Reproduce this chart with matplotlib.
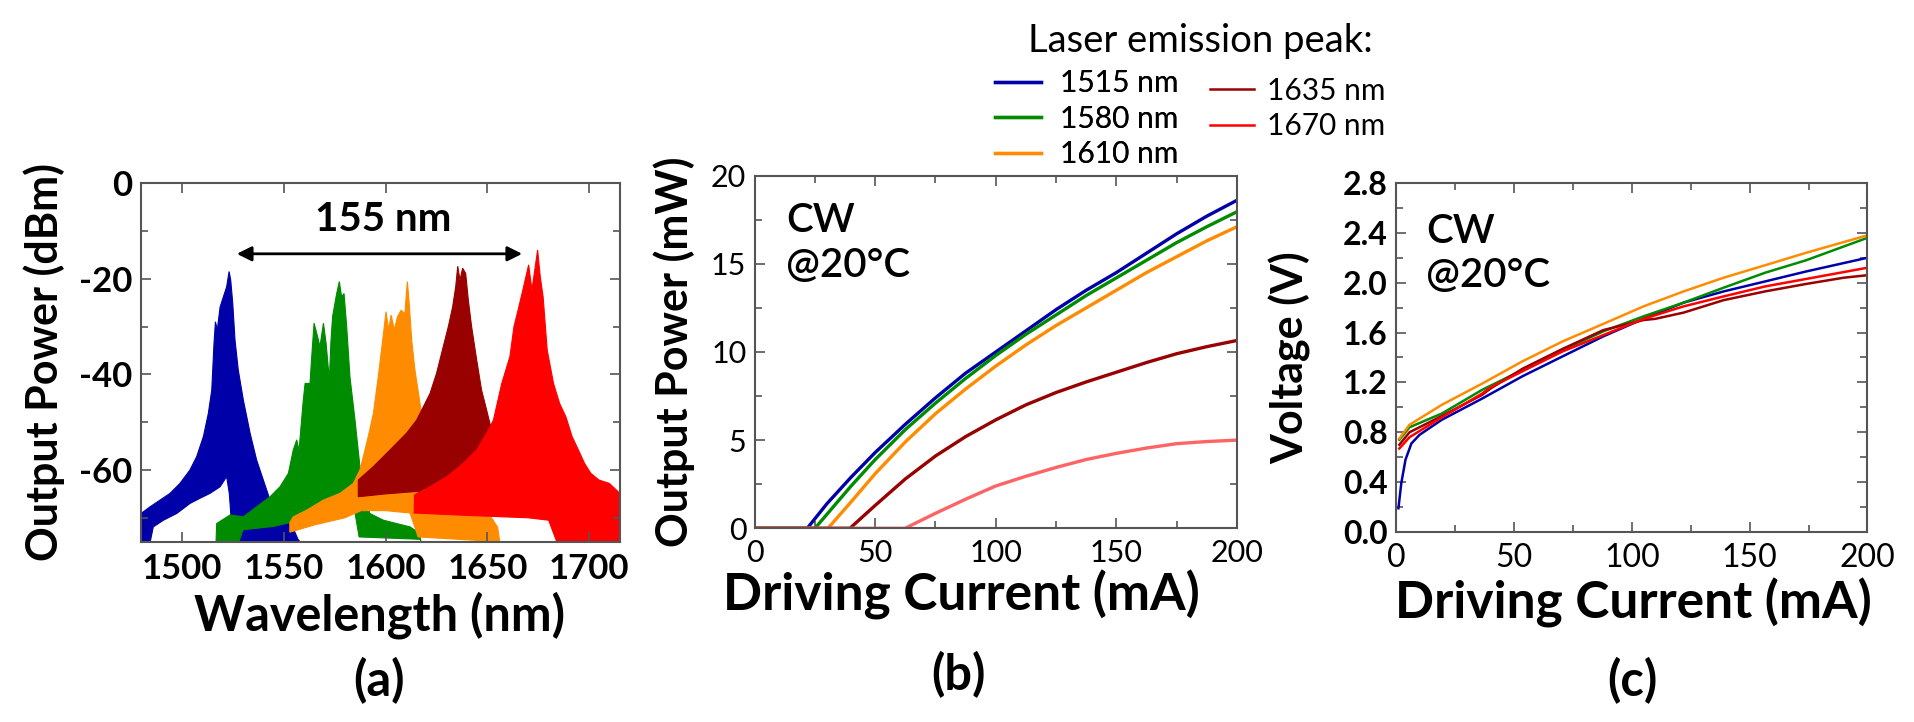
import matplotlib
matplotlib.use("Agg")
import matplotlib.pyplot as plt
from matplotlib.ticker import MultipleLocator

plt.rcParams['font.family'] = ['Lato', 'DejaVu Sans']
plt.rcParams['axes.unicode_minus'] = False

# ---------------------------------------------------------------------------
# (a) emission spectra, upper / lower envelopes
# ---------------------------------------------------------------------------
blue_top_wl = [1480, 1484.4, 1489.3, 1494.2, 1499.1, 1504, 1507.3, 1510.6, 1513,
               1514.7, 1515.8, 1516.5, 1517.4, 1518.8, 1520.4, 1522, 1523.2,
               1524, 1525, 1526.1, 1527.7, 1530.2, 1533.5, 1536.7, 1540,
               1543.3, 1548, 1553, 1557, 1558]
blue_top_db = [-69.1, -67.7, -66.3, -64.9, -62.8, -60.0, -57.2, -53.0, -48.2,
               -43.3, -33.5, -29.0, -30.7, -25.9, -23.8, -21.7, -18.5,
               -20.3, -25.2, -32.8, -39.1, -45.4, -52.3, -57.9, -62.1,
               -66.3, -68.5, -70.5, -74.5, -75]
blue_bot_wl = [1480, 1484.5, 1486, 1491, 1497.5, 1504, 1509, 1513.8, 1518.8,
               1522, 1523.3, 1524.5, 1525.6, 1558]
blue_bot_db = [-75, -75, -71.9, -70.5, -69.1, -67.0, -65.9, -64.9, -63.5,
               -61.4, -64.9, -71.9, -75, -75]

green_top_wl = [1516.8, 1517.1, 1523.7, 1530.2, 1536.7, 1543.3, 1548.2, 1552.3,
                1554.7, 1556.4, 1557.5, 1559.6, 1560.5, 1562.9, 1563.8, 1564.9,
                1566.2, 1567.8, 1569.5, 1570.8, 1572.4, 1573.2, 1574.0, 1576,
                1577.3, 1578.4, 1579.6, 1580.9, 1582.5, 1585, 1587.4, 1589.1,
                1592.3, 1598.9, 1605.4, 1612, 1616.9, 1617.2]
green_top_db = [-75, -71.2, -69.4, -69.8, -67.7, -65.6, -63.5, -60.7,
                -55.8, -53.7, -56, -45.4, -41.9, -41.9, -36, -29.3,
                -31.4, -34.2, -29.3, -33.5, -41.2, -33, -27.9, -23.1,
                -20.6, -23.8, -23.1, -30.0, -40.5, -49.6, -59.3, -64.9,
                -69.1, -70.5, -71.2, -71.9, -73.3, -75]
green_bot_wl = [1516.8, 1528, 1530, 1545, 1553, 1560, 1575, 1585, 1587, 1617.2]
green_bot_db = [-75, -75, -72.5, -71.8, -71, -69.5, -68.5, -69, -74, -74.5]

orange_top_wl = [1553, 1554.7, 1561.3, 1569.5, 1577.6, 1584.2, 1587.4, 1589.9,
                 1591.5, 1594, 1596.4, 1598.6, 1600.2, 1601.5, 1602.7, 1604.3,
                 1605.8, 1607.6, 1609.5, 1610.2, 1610.7, 1611.6, 1612.8, 1614.4,
                 1616.9, 1618.5, 1621, 1624, 1628, 1635, 1645, 1652, 1655, 1656]
orange_top_db = [-71, -69.8, -68.4, -66.3, -64.9, -62.8, -60.0, -55.8,
                 -53.0, -48.2, -40.5, -32.8, -26.9, -30.7, -27.6, -30.7,
                 -28.0, -26.6, -27.3, -23, -20.6, -25.2, -32.8, -39.1,
                 -46.1, -50.3, -56, -62, -66.5, -68, -69, -70, -72, -75]
orange_bot_wl = [1553, 1565, 1580, 1588, 1600, 1612, 1616, 1656]
orange_bot_db = [-73, -71.5, -70, -68.5, -68.5, -69, -74, -75]

dred_top_wl = [1586.6, 1586.6, 1594, 1602.2, 1610.3, 1615.2, 1618.5, 1621.8,
               1625, 1628.3, 1630.8, 1632.9, 1634.4, 1635.4, 1636.5, 1637.8,
               1639.3, 1640.6, 1642.2, 1644.7, 1647.1, 1649.6, 1651.2, 1656,
               1662, 1668, 1672, 1676, 1680]
dred_top_db = [-65.6, -62.1, -59.3, -55.8, -52.3, -49.6, -46.8, -44.0,
               -39.8, -34.2, -30.0, -25.9, -21.7, -17.4, -20.3, -17.8,
               -18.9, -24.5, -30.0, -37.0, -43.3, -47.5, -50.3, -56,
               -61, -64, -65, -66, -68]
dred_bot_wl = [1586.6, 1600, 1615, 1640, 1660, 1680]
dred_bot_db = [-65.6, -65, -64.5, -66, -68, -70]

red_top_wl = [1614, 1614.2, 1621.8, 1630, 1638.1, 1644.7, 1649.6, 1652.9, 1657,
              1661, 1663, 1665, 1668.1, 1670.2, 1671.8, 1673.2, 1674.6, 1675.9,
              1677.3, 1679.3, 1682.4, 1685.4, 1688.5, 1691.5, 1694.6, 1697.6,
              1700.7, 1704.7, 1709.8, 1715]
red_top_db = [-69, -65.2, -63.5, -61.4, -58.6, -55.8, -52.3, -49.6, -41.9,
              -36.3, -30.0, -26.6, -21.0, -17.1, -22.4, -18.2, -14.0, -19.6,
              -23.8, -34.9, -41.9, -46.1, -48.9, -53.0, -55.8, -58.6,
              -60.7, -62.1, -62.8, -64.9]
red_bot_wl = [1614, 1640, 1670, 1680, 1684, 1715]
red_bot_db = [-69, -69.5, -70, -70.5, -75, -75]

# ---------------------------------------------------------------------------
# (b) L-I curves (mA, mW)
# ---------------------------------------------------------------------------
li_1515_i = [0, 21.8, 30, 40, 50, 62.5, 75, 87.5, 100, 112.5, 125, 137.5, 150,
             162.5, 175, 187.5, 200]
li_1515_p = [0, 0, 1.4, 2.9, 4.3, 5.9, 7.4, 8.8, 10.0, 11.2, 12.4, 13.5, 14.5,
             15.6, 16.7, 17.7, 18.6]
li_1580_i = [0, 25, 30, 40, 50, 62.5, 75, 87.5, 100, 112.5, 125, 137.5, 150,
             162.5, 175, 187.5, 200]
li_1580_p = [0, 0, 0.8, 2.4, 3.9, 5.6, 7.1, 8.5, 9.8, 11.0, 12.1, 13.2, 14.2,
             15.2, 16.2, 17.1, 17.95]
li_1610_i = [0, 30.4, 40, 50, 62.5, 75, 87.5, 100, 112.5, 125, 137.5, 150,
             162.5, 175, 187.5, 200]
li_1610_p = [0, 0, 1.5, 3.1, 4.9, 6.5, 7.9, 9.2, 10.4, 11.5, 12.5, 13.5,
             14.5, 15.4, 16.3, 17.1]
li_1635_i = [0, 39.5, 50, 62.5, 75, 87.5, 100, 112.5, 125, 137.5, 150, 162.5,
             175, 187.5, 200]
li_1635_p = [0, 0, 1.3, 2.8, 4.1, 5.2, 6.15, 7.0, 7.7, 8.3, 8.85, 9.4,
             9.9, 10.3, 10.65]
li_1670_i = [0, 62.4, 75, 87.5, 100, 112.5, 125, 137.5, 150, 162.5, 175, 187.5,
             200]
li_1670_p = [0, 0, 0.85, 1.65, 2.4, 2.95, 3.45, 3.9, 4.25, 4.55, 4.8, 4.92, 5.0]

# ---------------------------------------------------------------------------
# (c) V-I curves (mA, V)
# ---------------------------------------------------------------------------
vi_1515_i = [1, 2.2, 4, 6.5, 10, 19.4, 36.5, 53.7, 70.8, 88, 105, 122, 139,
             156.6, 174, 200]
vi_1515_v = [0.19, 0.39, 0.58, 0.71, 0.78, 0.90, 1.07, 1.25, 1.41, 1.57, 1.71,
             1.84, 1.93, 2.01, 2.09, 2.20]
vi_1580_i = [1.4, 5.7, 19.4, 36.5, 53.7, 70.8, 88, 105, 122, 139, 156.6, 174, 200]
vi_1580_v = [0.74, 0.84, 0.95, 1.14, 1.30, 1.46, 1.61, 1.73, 1.84, 1.96, 2.08,
             2.18, 2.36]
vi_1610_i = [1.4, 5.7, 19.4, 36.5, 53.7, 70.8, 88, 105, 122, 139, 156.6, 174, 200]
vi_1610_v = [0.75, 0.86, 1.02, 1.19, 1.37, 1.53, 1.67, 1.81, 1.93, 2.04, 2.14,
             2.24, 2.38]
vi_1635_i = [1.4, 5.7, 19.4, 36.5, 40, 53.7, 70.8, 88, 105, 110, 122, 139,
             156.6, 174, 190, 200]
vi_1635_v = [0.70, 0.80, 0.93, 1.10, 1.15, 1.31, 1.47, 1.62, 1.70, 1.71, 1.76,
             1.86, 1.93, 1.99, 2.04, 2.06]
vi_1670_i = [1.4, 5.7, 19.4, 36.5, 40, 53.7, 70.8, 88, 105, 122, 139, 156.6,
             174, 200]
vi_1670_v = [0.67, 0.76, 0.92, 1.11, 1.16, 1.29, 1.45, 1.58, 1.71, 1.81, 1.89,
             1.97, 2.03, 2.12]

labels = ["1515 nm", "1580 nm", "1610 nm", "1635 nm", "1670 nm"]
colors = ["#0000a8", "#008c00", "#ff8c00", "#990000", "#ff0000"]
spine_col = "#555555"


def style_axes(ax, tick_size, xbold, ybold):
    for s in ax.spines.values():
        s.set_color(spine_col)
        s.set_linewidth(1.5)
    ax.tick_params(which="both", direction="in", top=True, right=True,
                   color=spine_col, width=1.2)
    ax.tick_params(which="major", length=7)
    ax.tick_params(which="minor", length=5)
    ax.tick_params(axis="x", pad=8, labelsize=tick_size)
    ax.tick_params(axis="y", pad=6, labelsize=tick_size)
    for t in ax.get_xticklabels():
        t.set_fontweight("bold" if xbold else "normal")
    for t in ax.get_yticklabels():
        t.set_fontweight("bold" if ybold else "normal")


fig = plt.figure(figsize=(19.14, 7.22), dpi=100)
ax_a = fig.add_axes([0.0737, 0.2497, 0.2502, 0.4968])
ax_b = fig.add_axes([0.3943, 0.2683, 0.2519, 0.4884])
ax_c = fig.add_axes([0.7294, 0.2632, 0.2463, 0.4834])

# ---- (a) ----
spectra = [
    (blue_top_wl, blue_top_db, blue_bot_wl, blue_bot_db),
    (green_top_wl, green_top_db, green_bot_wl, green_bot_db),
    (orange_top_wl, orange_top_db, orange_bot_wl, orange_bot_db),
    (dred_top_wl, dred_top_db, dred_bot_wl, dred_bot_db),
    (red_top_wl, red_top_db, red_bot_wl, red_bot_db),
]
for (tw, td, bw, bd), c in zip(spectra, colors):
    ax_a.fill(tw + bw[::-1], td + bd[::-1], color=c, lw=0.8, ec=c)
ax_a.set_xlim(1480, 1715)
ax_a.set_ylim(-75, 0)
ax_a.set_xticks([1500, 1550, 1600, 1650, 1700])
ax_a.set_yticks([-60, -40, -20, 0])
ax_a.yaxis.set_minor_locator(MultipleLocator(10))
style_axes(ax_a, 25, True, True)
ax_a.annotate("", xy=(1667, -14.8), xytext=(1527, -14.8),
              arrowprops=dict(arrowstyle="<|-|>", color="black", lw=2,
                              mutation_scale=22, shrinkA=0, shrinkB=0))
ax_a.text(1598.7, -7.7, "155 nm", fontsize=29, fontweight="bold",
          ha="center", va="center")
ax_a.set_xlabel("Wavelength (nm)", fontsize=35, fontweight="bold", va="center")
ax_a.xaxis.set_label_coords(0.497, -0.205)
ax_a.set_ylabel("Output Power (dBm)", fontsize=31, fontweight="bold",
                va="center", ha="center")
ax_a.yaxis.set_label_coords(-0.2025, 0.5)

# ---- (b) ----
li = [(li_1515_i, li_1515_p), (li_1580_i, li_1580_p), (li_1610_i, li_1610_p),
      (li_1635_i, li_1635_p), (li_1670_i, li_1670_p)]
li_colors = colors[:4] + ["#ff6464"]
b_lines = []
for (x, y), c, lab in zip(li, li_colors, labels):
    ln, = ax_b.plot(x, y, color=c, lw=2.4, label=lab)
    b_lines.append(ln)
ax_b.set_xlim(0, 200)
ax_b.set_ylim(0, 20)
ax_b.set_xticks([0, 50, 100, 150, 200])
ax_b.set_yticks([0, 5, 10, 15, 20])
ax_b.xaxis.set_minor_locator(MultipleLocator(25))
ax_b.yaxis.set_minor_locator(MultipleLocator(2.5))
style_axes(ax_b, 22, False, False)
ax_b.text(0.065, 0.925, "CW\n@20\u00b0C", transform=ax_b.transAxes,
          fontsize=29, fontweight="semibold", ha="left", va="top",
          linespacing=1.25)
ax_b.set_xlabel("Driving Current (mA)", fontsize=37, fontweight="bold",
                va="center")
ax_b.xaxis.set_label_coords(0.428, -0.189)
ax_b.set_ylabel("Output Power (mW)", fontsize=31, fontweight="bold",
                va="center", ha="center")
ax_b.yaxis.set_label_coords(-0.167, 0.5)

# ---- (c) ----
vi = [(vi_1515_i, vi_1515_v), (vi_1580_i, vi_1580_v), (vi_1610_i, vi_1610_v),
      (vi_1635_i, vi_1635_v), (vi_1670_i, vi_1670_v)]
c_lines = []
for (x, y), c, lab in zip(vi, colors, labels):
    ln, = ax_c.plot(x, y, color=c, lw=1.8, label=lab)
    c_lines.append(ln)
ax_c.set_xlim(0, 200)
ax_c.set_ylim(0, 2.8)
ax_c.set_xticks([0, 50, 100, 150, 200])
ax_c.set_yticks([0.0, 0.4, 0.8, 1.2, 1.6, 2.0, 2.4, 2.8])
ax_c.set_yticklabels(["0.0", "0.4", "0.8", "1.2", "1.6", "2.0", "2.4", "2.8"])
ax_c.xaxis.set_minor_locator(MultipleLocator(25))
ax_c.yaxis.set_minor_locator(MultipleLocator(0.2))
style_axes(ax_c, 23, False, True)
ax_c.text(0.063, 0.915, "CW\n@20\u00b0C", transform=ax_c.transAxes,
          fontsize=29, fontweight="semibold", ha="left", va="top",
          linespacing=1.25)
ax_c.set_xlabel("Driving Current (mA)", fontsize=37, fontweight="bold",
                va="center")
ax_c.xaxis.set_label_coords(0.503, -0.203)
ax_c.set_ylabel("Voltage (V)", fontsize=31, fontweight="bold",
                va="center", ha="center")
ax_c.yaxis.set_label_coords(-0.225, 0.5)

# ---- legend above (b) ----
fig.text(0.537, 0.943, "Laser emission peak:", fontsize=27.5, ha="left",
         va="center")
leg1 = fig.legend(b_lines[:3], labels[:3], loc="upper left",
                  bbox_to_anchor=(0.5199, 0.904), frameon=False,
                  fontsize=21.5, handlelength=1.55, handletextpad=0.62,
                  labelspacing=0.25, borderpad=0, borderaxespad=0)
fig.legend(c_lines[3:], labels[3:], loc="upper left",
           bbox_to_anchor=(0.632, 0.894), frameon=False,
           fontsize=21.5, handlelength=1.5, handletextpad=0.43,
           labelspacing=0.25, borderpad=0, borderaxespad=0)
fig.add_artist(leg1)

# ---- panel letters ----
fig.text(0.198, 0.058, "(a)", fontsize=35, fontweight="bold", ha="center",
         va="center")
fig.text(0.5005, 0.065, "(b)", fontsize=35, fontweight="bold", ha="center",
         va="center")
fig.text(0.853, 0.058, "(c)", fontsize=35, fontweight="bold", ha="center",
         va="center")

fig.savefig("out.png", dpi=100)
